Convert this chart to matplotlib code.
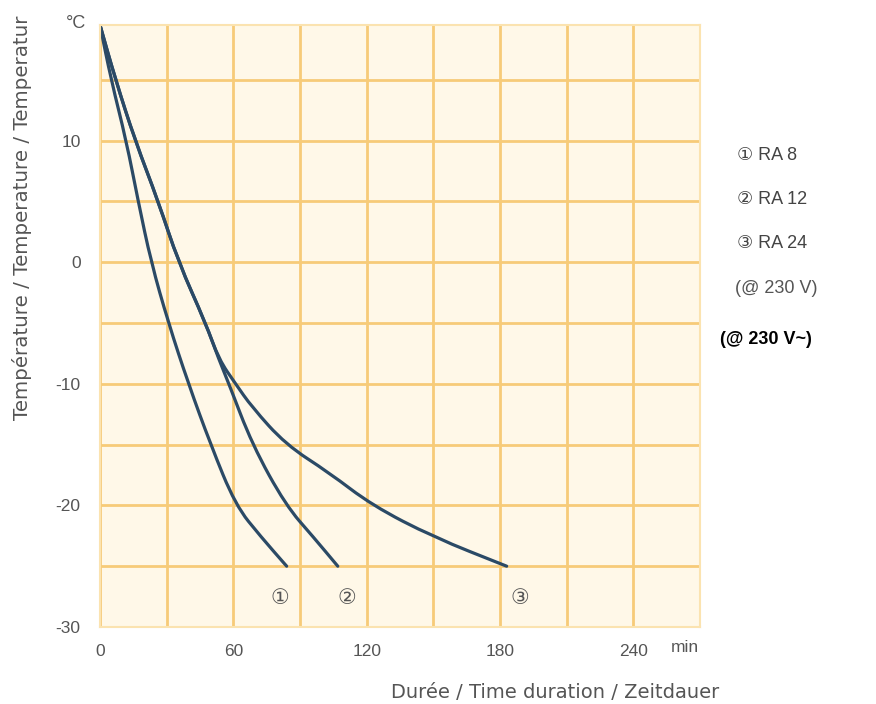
import numpy as np
import matplotlib
matplotlib.use("Agg")
import matplotlib.pyplot as plt
from matplotlib.path import Path
from matplotlib.patches import PathPatch

plt.rcParams["axes.unicode_minus"] = False

# cooling curves (time in min, temperature in °C)
t_ra8 = [0, 5, 11.8, 17.2, 23, 30.8, 39.8, 49.8, 61, 72.5, 84]
temp_ra8 = [19.5, 15, 10, 5, 0, -5, -10, -15, -20, -22.6, -25]

t_ra12 = [0, 7, 15.8, 26.2, 35.3, 47.5, 53.5, 58, 68.5, 83.6, 96, 107]
temp_ra12 = [19.5, 15, 10, 5, 0, -5, -8, -10, -15, -20, -22.6, -25]

t_ra24 = [0, 7, 15.8, 26.2, 35.3, 47.5, 53.5, 61, 68.3, 83.6, 103, 122.5, 150, 183]
temp_ra24 = [19.5, 15, 10, 5, 0, -5, -8, -10, -11.9, -15, -17.3, -20, -22.6, -25]

curve_marks = ["①", "②", "③"]
mark_x = [81, 111, 189]
legend_lines = ["① RA 8", "② RA 12", "③ RA 24", "(@ 230 V)"]

x_ticks = [0, 60, 120, 180, 240]
y_ticks = [-30, -20, -10, 0, 10]


def smooth_path(xs, ys):
    # quadratic b-spline style path: data points act as control points
    pts = np.column_stack([xs, ys])
    verts = [pts[0]]
    codes = [Path.MOVETO]
    mids = (pts[:-1] + pts[1:]) / 2
    verts.append(mids[0])
    codes.append(Path.LINETO)
    for i in range(1, len(pts) - 1):
        verts += [pts[i], mids[i]]
        codes += [Path.CURVE3, Path.CURVE3]
    verts.append(pts[-1])
    codes.append(Path.LINETO)
    return Path(verts, codes)


W, H = 876, 704
fig = plt.figure(figsize=(W / 100, H / 100), dpi=100)
ax = fig.add_axes([100 / W, 1 - 627 / H, 600 / W, 602 / H])

ax.set_facecolor("#fff8e8")
ax.set_xlim(0, 270)
ax.set_ylim(-30, 19.5)

ax.set_xticks(np.arange(0, 271, 30), minor=True)
ax.set_yticks(np.arange(-30, 16, 5), minor=True)
ax.grid(which="both", color="#f7cb78", linewidth=2.0)
ax.set_axisbelow(True)
for s in ax.spines.values():
    s.set_color("#fbe3b0")
    s.set_linewidth(1.5)

ax.set_xticks(x_ticks)
ax.set_yticks(y_ticks)
ax.tick_params(which="both", length=0)
ax.tick_params(axis="x", pad=12)
ax.tick_params(axis="y", pad=14)
for lab in ax.get_xticklabels() + ax.get_yticklabels():
    lab.set_fontfamily("Liberation Sans")
    lab.set_fontsize(12.5)
    lab.set_color("#555555")

line_col = "#2b4a66"
for tt, vv in [(t_ra8, temp_ra8), (t_ra12, temp_ra12), (t_ra24, temp_ra24)]:
    ax.add_patch(PathPatch(smooth_path(tt, vv), facecolor="none",
                           edgecolor=line_col, linewidth=2.3, capstyle="round"))

for m, x in zip(curve_marks, mark_x):
    ax.text(x, -27.6, m, ha="center", va="center", fontsize=15,
            color="#555555", family="DejaVu Sans")

fig.text(685 / W, 1 - 648 / H, "min", ha="center", va="center",
         fontsize=12.5, color="#555555", family="Liberation Sans")
fig.text(76 / W, 1 - 24 / H, "°C", ha="center", va="center",
         fontsize=13, color="#555555", family="Liberation Sans")

fig.text(22 / W, 1 - 420 / H, "Température / Temperature / Temperatur",
         rotation=90, ha="center", va="bottom", fontsize=14.3,
         color="#555555", family="DejaVu Sans")
fig.text(555 / W, 1 - 692 / H, "Durée / Time duration / Zeitdauer",
         ha="center", va="center", fontsize=14, color="#555555",
         family="DejaVu Sans")

for i, txt in enumerate(legend_lines[:3]):
    fig.text(737 / W, 1 - (155 + 44 * i) / H, txt, ha="left", va="center",
             fontsize=13, color="#444444", family=["Liberation Sans", "DejaVu Sans"])
fig.text(735 / W, 1 - 288 / H, legend_lines[3], ha="left", va="center",
         fontsize=13, color="#555555", family="Liberation Sans")
fig.text(720 / W, 1 - 340 / H, "(@ 230 V~)", ha="left", va="center",
         fontsize=13, fontweight="bold", color="black", family="Liberation Sans")

fig.savefig("out.png", dpi=100)
